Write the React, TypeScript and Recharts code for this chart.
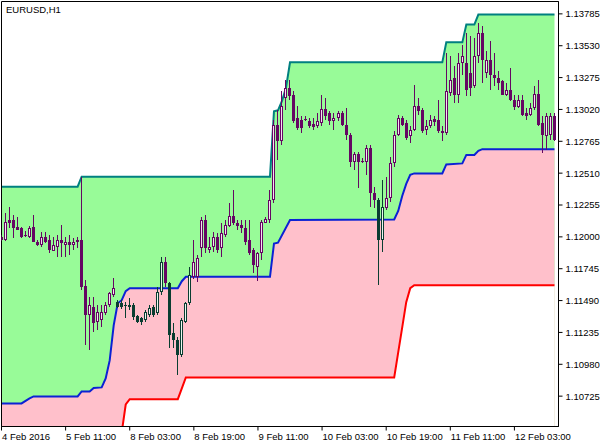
import { ComposedChart, Area, Bar, XAxis, YAxis, ReferenceArea } from 'recharts'

const FONT = '"Liberation Sans", Arial, sans-serif'

// hourly EURUSD bars, 4 Feb 19:00 .. 12 Feb 12:00
const OPEN = [
  1.11999, 1.11975, 1.12136, 1.12136, 1.12082, 1.12069, 1.12015, 1.12002, 1.12082, 1.11962,
  1.11935, 1.12002, 1.11975, 1.11889, 1.11922, 1.11975, 1.11935, 1.11962, 1.11935, 1.11962,
  1.11975, 1.11606, 1.11374, 1.1144, 1.1132, 1.11334, 1.11387, 1.11454, 1.11534, 1.1148,
  1.11468, 1.11452, 1.11436, 1.11454, 1.11366, 1.11347, 1.11334, 1.11374, 1.11436, 1.11387,
  1.11561, 1.11801, 1.11628, 1.11227, 1.11173, 1.11053, 1.1132, 1.11468, 1.11681, 1.11681,
  1.11909, 1.12136, 1.11895, 1.11922, 1.12002, 1.11909, 1.12015, 1.12088, 1.12168, 1.12114,
  1.12096, 1.12069, 1.11975, 1.11895, 1.11761, 1.11869, 1.12114, 1.12136, 1.12296, 1.12898,
  1.12764, 1.13112, 1.13192, 1.13138, 1.12951, 1.12938, 1.12943, 1.12924, 1.12906, 1.12884,
  1.12911, 1.13023, 1.12991, 1.12924, 1.12951, 1.12991, 1.12898, 1.12817, 1.12603, 1.12665,
  1.12609, 1.12603, 1.12711, 1.1235, 1.12296, 1.11975, 1.12229, 1.1231, 1.1259, 1.12817,
  1.12951, 1.12911, 1.12804, 1.12857, 1.1305, 1.13018, 1.12857, 1.12884, 1.12943, 1.12938,
  1.12844, 1.12831, 1.13152, 1.13272, 1.13138, 1.13392, 1.13392, 1.13312, 1.13205, 1.13445,
  1.13633, 1.13312, 1.13419, 1.13299, 1.13272, 1.13245, 1.13138, 1.13178, 1.13098, 1.1304,
  1.13098, 1.12991, 1.12978, 1.13031, 1.13146, 1.12911, 1.12804, 1.12817, 1.12964,
]
const HIGH = [
  1.12015, 1.12192, 1.12242, 1.12176, 1.12162, 1.12082, 1.1205, 1.12088, 1.12176, 1.11975,
  1.12042, 1.12042, 1.12015, 1.12002, 1.12015, 1.12096, 1.12002, 1.12015, 1.11989, 1.11997,
  1.12483, 1.11654, 1.11521, 1.11521, 1.11454, 1.11454, 1.1148, 1.11561, 1.11668, 1.11494,
  1.11494, 1.1148, 1.11508, 1.11468, 1.11374, 1.1136, 1.11414, 1.11454, 1.11454, 1.11601,
  1.11841, 1.11841, 1.11641, 1.11307, 1.112, 1.11347, 1.1148, 1.11761, 1.11975, 1.11855,
  1.12162, 1.12176, 1.12002, 1.12042, 1.12029, 1.12109, 1.12136, 1.1227, 1.12376, 1.12136,
  1.12136, 1.12136, 1.12136, 1.11911, 1.11881, 1.12136, 1.12162, 1.12376, 1.12938, 1.13018,
  1.13165, 1.13258, 1.13258, 1.13165, 1.13044, 1.12964, 1.12964, 1.12951, 1.12951, 1.12991,
  1.13138, 1.13112, 1.13004, 1.12991, 1.13004, 1.13004, 1.13031, 1.12831, 1.12683, 1.12683,
  1.1263, 1.12737, 1.12737, 1.12403, 1.1231, 1.12456, 1.12483, 1.12643, 1.12844, 1.12978,
  1.12964, 1.12938, 1.12884, 1.13218, 1.13112, 1.13031, 1.12938, 1.12978, 1.12964, 1.13098,
  1.12884, 1.13473, 1.13445, 1.13365, 1.13473, 1.13539, 1.13633, 1.13606, 1.13593, 1.13713,
  1.13686, 1.13485, 1.13566, 1.13473, 1.13325, 1.13258, 1.13232, 1.13352, 1.13138, 1.13138,
  1.13138, 1.13031, 1.13072, 1.13205, 1.13258, 1.12964, 1.12991, 1.12991, 1.12991,
]
const LOW = [
  1.11967, 1.11967, 1.12069, 1.11989, 1.12055, 1.11989, 1.11999, 1.11991, 1.11962, 1.11927,
  1.11922, 1.11949, 1.11869, 1.11883, 1.11841, 1.11841, 1.11841, 1.11855, 1.11895, 1.11909,
  1.11574, 1.11133, 1.11093, 1.1124, 1.11253, 1.1128, 1.11374, 1.1144, 1.11521, 1.11427,
  1.11422, 1.11347, 1.11414, 1.11334, 1.11307, 1.11294, 1.1132, 1.1136, 1.1136, 1.11374,
  1.11534, 1.11601, 1.11107, 1.11107, 1.10893, 1.11039, 1.11307, 1.11454, 1.11662, 1.11638,
  1.11841, 1.11869, 1.11869, 1.11881, 1.11869, 1.11841, 1.12002, 1.12082, 1.12096, 1.12055,
  1.12029, 1.11935, 1.11855, 1.11711, 1.11646, 1.11815, 1.12109, 1.12109, 1.1227, 1.12617,
  1.12737, 1.13018, 1.13098, 1.12911, 1.12857, 1.12831, 1.12924, 1.12871, 1.12857, 1.12871,
  1.12884, 1.12938, 1.12898, 1.12857, 1.12924, 1.12884, 1.12777, 1.12563, 1.12537, 1.1239,
  1.1259, 1.12497, 1.12242, 1.12229, 1.11614, 1.11881, 1.12216, 1.12282, 1.12563, 1.12804,
  1.12884, 1.12777, 1.12751, 1.12844, 1.12978, 1.12831, 1.12817, 1.12871, 1.12884, 1.12831,
  1.12764, 1.12817, 1.13124, 1.13072, 1.13072, 1.13299, 1.13124, 1.13124, 1.13192, 1.13392,
  1.13232, 1.13272, 1.13178, 1.13205, 1.13178, 1.13138, 1.13124, 1.13084, 1.13018, 1.13031,
  1.12964, 1.12938, 1.12964, 1.13018, 1.12884, 1.12671, 1.12697, 1.12777, 1.12764,
]
const CLOSE = [
  1.11975, 1.12122, 1.12112, 1.12069, 1.12055, 1.12002, 1.12007, 1.12069, 1.11962, 1.11935,
  1.12002, 1.11962, 1.11895, 1.11935, 1.11975, 1.11949, 1.11962, 1.11935, 1.11962, 1.11975,
  1.11601, 1.11374, 1.11454, 1.11307, 1.114, 1.114, 1.11454, 1.11548, 1.11588, 1.11436,
  1.11436, 1.11446, 1.11454, 1.1136, 1.1132, 1.1132, 1.114, 1.11427, 1.11374, 1.11561,
  1.11801, 1.11628, 1.11213, 1.11173, 1.11053, 1.11334, 1.11468, 1.11695, 1.11799, 1.11828,
  1.12136, 1.11909, 1.11922, 1.12002, 1.11895, 1.12029, 1.12096, 1.12168, 1.12109, 1.12088,
  1.12069, 1.11962, 1.11869, 1.11775, 1.11869, 1.12122, 1.12141, 1.12296, 1.12898, 1.12764,
  1.13044, 1.13192, 1.13124, 1.12924, 1.12871, 1.12871, 1.12938, 1.12884, 1.12879, 1.12924,
  1.13023, 1.12964, 1.12924, 1.12951, 1.12991, 1.12898, 1.12817, 1.12603, 1.12665, 1.12603,
  1.12603, 1.12711, 1.1235, 1.12296, 1.11975, 1.12242, 1.1231, 1.1259, 1.12817, 1.12951,
  1.12898, 1.12791, 1.12857, 1.1305, 1.13004, 1.12844, 1.1289, 1.12938, 1.12916, 1.12844,
  1.12831, 1.13165, 1.13258, 1.13138, 1.13392, 1.13445, 1.13178, 1.13192, 1.13445, 1.13633,
  1.13419, 1.13419, 1.13299, 1.13272, 1.13232, 1.13138, 1.13178, 1.13098, 1.1304, 1.13098,
  1.12978, 1.12964, 1.13031, 1.13146, 1.12898, 1.12817, 1.12964, 1.12964, 1.12777,
]

// channel lines: bar index where the value changes, and the value there
const TEAL_AT = [0, 19, 20, 67, 68, 69, 70, 71, 72, 110, 111, 115, 116, 118, 119, 138]
const TEAL = [
  1.12402, 1.12402, 1.12482, 1.12482, 1.13005, 1.13013, 1.13089, 1.13194, 1.13397, 1.13397,
  1.13557, 1.13557, 1.13699, 1.13699, 1.13779, 1.13779,
]
const BLUE_AT = [
  0, 5, 7, 8, 19, 20, 22, 23, 25, 26, 27, 28, 29, 30, 31, 32, 44, 45, 46, 67, 68, 69, 72, 98,
  99, 100, 101, 102, 103, 110, 111, 115, 116, 118, 119, 120, 138,
]
const BLUE = [
  1.10667, 1.10667, 1.10707, 1.10723, 1.10723, 1.10763, 1.10763, 1.10791, 1.10795, 1.10867,
  1.11011, 1.11292, 1.11469, 1.11493, 1.11565, 1.11589, 1.11589, 1.11645, 1.1168, 1.1168,
  1.11946, 1.11953, 1.12135, 1.12139, 1.12207, 1.12327, 1.12424, 1.12496, 1.12508, 1.12508,
  1.1258, 1.12588, 1.12656, 1.12656, 1.12688, 1.12702, 1.12702,
]
const RED_AT = [30, 31, 32, 44, 45, 46, 98, 99, 100, 101, 102, 103, 138]
const RED = [
  1.10434, 1.10658, 1.10701, 1.10701, 1.10787, 1.10875, 1.10875, 1.11076, 1.11276, 1.11477,
  1.11589, 1.11613, 1.11613,
]

const TIME_TICKS = [0, 16, 32, 48, 64, 80, 96, 112, 128]
const TIME_LABELS = [
  '4 Feb 2016', '5 Feb 11:00', '8 Feb 03:00', '8 Feb 19:00', '9 Feb 11:00',
  '10 Feb 03:00', '10 Feb 19:00', '11 Feb 11:00', '12 Feb 03:00',
]
const PRICE_TICKS = [
  1.10725, 1.1098, 1.11235, 1.1149, 1.11745, 1.12, 1.12255, 1.1251, 1.12765, 1.1302,
  1.13275, 1.1353, 1.13785,
]
const Y_MIN = 1.10482
const Y_MAX = 1.13884

type Row = {
  i: number; o: number; h: number; l: number; c: number
  range: [number, number]
  teal: number | null; blue: number | null; red: number | null
}

const rows: Row[] = OPEN.map((o, i) => ({
  i, o, h: HIGH[i], l: LOW[i], c: CLOSE[i],
  range: [LOW[i], HIGH[i]],
  teal: null, blue: null, red: null,
}))
TEAL_AT.forEach((b, k) => { rows[b].teal = TEAL[k] })
BLUE_AT.forEach((b, k) => { rows[b].blue = BLUE[k] })
RED_AT.forEach((b, k) => { rows[b].red = RED[k] })

// blue level under a bar, only used to pick the candle colour
function blueAt(i: number) {
  for (let k = 1; k < BLUE_AT.length; k++) {
    if (i <= BLUE_AT[k]) {
      const a = BLUE_AT[k - 1], b = BLUE_AT[k]
      return BLUE[k - 1] + ((BLUE[k] - BLUE[k - 1]) * (i - a)) / (b - a)
    }
  }
  return BLUE[BLUE.length - 1]
}

// eslint-disable-next-line @typescript-eslint/no-explicit-any
function Candle(props: any) {
  const { x, y, width, height, payload } = props
  if (x == null || y == null || !payload) return null
  const top = Math.min(y, y + height)
  const span = Math.abs(height)
  const { o, h, l, c, i } = payload as Row
  const py = (v: number) => (h === l ? top : top + ((h - v) / (h - l)) * span)
  const cx = Math.round(x + width / 2 - 0.5)
  const below = Math.min(o, c) < blueAt(i)
  const dark = below ? '#0a3d31' : '#650663'
  const light = below ? '#eaf6ee' : '#f6e0f3'
  const yo = Math.round(py(o))
  const yc = Math.round(py(c))
  const bTop = Math.min(yo, yc)
  const bBot = Math.max(yo, yc)
  const bull = c > o
  return (
    <g>
      <line x1={cx + 0.5} x2={cx + 0.5} y1={Math.round(top)} y2={Math.round(top + span)} stroke={dark} strokeWidth={1} />
      {bull && bBot - bTop >= 2 ? (
        <rect x={cx - 0.5} y={bTop + 0.5} width={2} height={bBot - bTop - 1} fill={light} stroke={dark} strokeWidth={1} />
      ) : (
        <rect x={cx - 1} y={bTop} width={3} height={Math.max(bBot - bTop, 1)} fill={dark} />
      )}
    </g>
  )
}

// eslint-disable-next-line @typescript-eslint/no-explicit-any
function TimeTick({ x, y, payload }: any) {
  const label = TIME_LABELS[TIME_TICKS.indexOf(payload.value)]
  return (
    <text x={x + 0.5} y={y + 7.5} fontSize={9.5} fontFamily={FONT} fill="#000" textAnchor="start">
      {label}
    </text>
  )
}

export default function App() {
  return (
    <div style={{ position: 'fixed', left: 0, top: 0, width: 610, height: 446, background: '#fff', fontFamily: FONT }}>
      <ComposedChart width={610} height={446} data={rows} margin={{ top: 1.5, right: 0.5, bottom: 0.5, left: 1.5 }}>
        <XAxis
          dataKey="i"
          type="number"
          domain={[0, 139]}
          allowDataOverflow
          ticks={TIME_TICKS}
          interval={0}
          tick={<TimeTick />}
          tickSize={4}
          tickLine={{ stroke: '#000' }}
          axisLine={{ stroke: '#000' }}
          height={19}
        />
        <YAxis
          orientation="right"
          type="number"
          domain={[Y_MIN, Y_MAX]}
          allowDataOverflow
          ticks={PRICE_TICKS}
          interval={0}
          tickFormatter={(v: number) => v.toFixed(5)}
          tick={{ fontSize: 9.5, fill: '#000', fontFamily: FONT }}
          tickSize={4}
          tickMargin={3}
          tickLine={{ stroke: '#000' }}
          axisLine={{ stroke: '#000' }}
          width={51}
        />
        <Area dataKey="teal" type="linear" connectNulls baseValue="dataMin" stroke="#008080" strokeWidth={2} fill="#98fb98" fillOpacity={1} dot={false} activeDot={false} isAnimationActive={false} />
        <Area dataKey="blue" type="linear" connectNulls baseValue="dataMin" stroke="#0b22d4" strokeWidth={2} fill="#ffc0cb" fillOpacity={1} dot={false} activeDot={false} isAnimationActive={false} />
        <Area dataKey="red" type="linear" connectNulls baseValue="dataMin" stroke="#ff0000" strokeWidth={2} fill="#ffffff" fillOpacity={1} dot={false} activeDot={false} isAnimationActive={false} />
        <Bar dataKey="range" shape={Candle} isAnimationActive={false} />
        <ReferenceArea x1={0} x2={139} y1={Y_MIN} y2={Y_MAX} fill="none" stroke="#000" strokeWidth={1} />
      </ComposedChart>
      <div style={{ position: 'absolute', left: 6, top: 4, fontSize: 9.5, color: '#000', fontFamily: FONT, lineHeight: 'normal' }}>
        EURUSD,H1
      </div>
    </div>
  )
}
